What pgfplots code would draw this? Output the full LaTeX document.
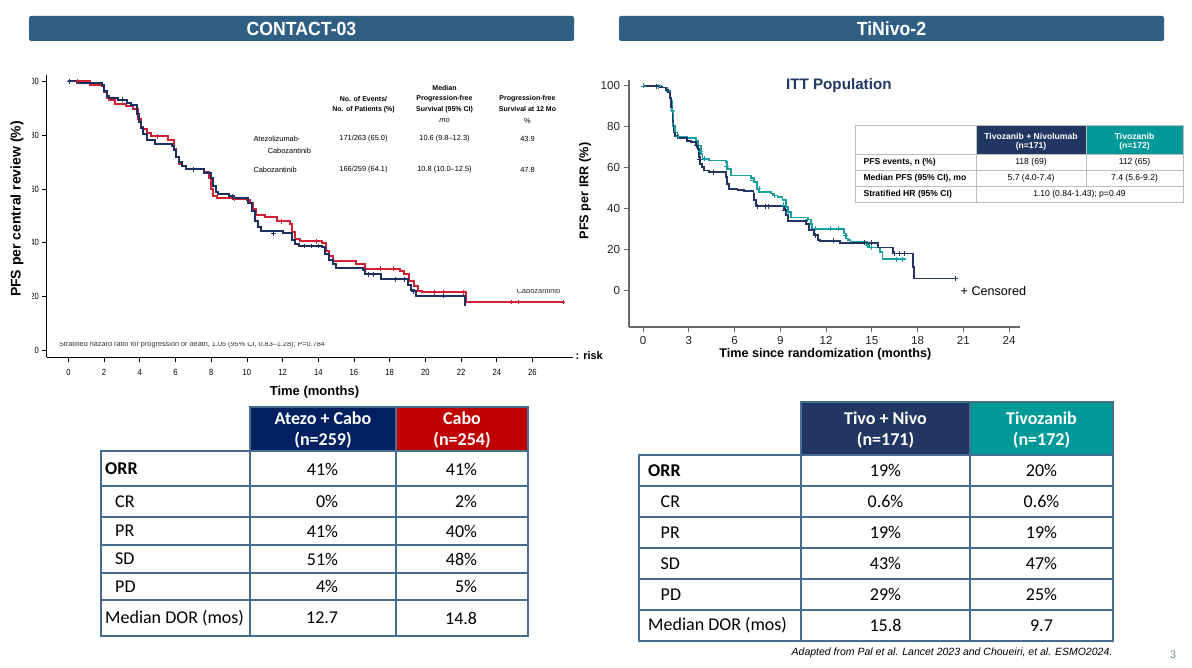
\documentclass[border=0pt]{standalone}
\usepackage{fontspec}
\setmainfont{Liberation Sans}
\newfontfamily\calibri{Carlito}
\usepackage{graphicx}
\usepackage{pgfplots}
\pgfplotsset{compat=1.18}
\newcommand{\fs}[1]{\fontsize{#1}{#1}\selectfont}
\definecolor{banner}{RGB}{47,96,132}
\definecolor{kmred}{RGB}{210,32,52}
\definecolor{kmblue}{RGB}{28,48,98}
\definecolor{tnavy}{RGB}{36,54,100}
\definecolor{tteal}{RGB}{26,160,160}
\definecolor{hdrnavy}{RGB}{0,32,96}
\definecolor{hdrred}{RGB}{192,0,0}
\definecolor{hdrnavyb}{RGB}{33,55,98}
\definecolor{hdrteal}{RGB}{0,153,153}
\definecolor{tblborder}{RGB}{70,110,145}
\definecolor{ittnavy}{RGB}{31,56,100}
\definecolor{axgray}{RGB}{105,105,105}
\definecolor{insetgray}{RGB}{190,190,190}
\definecolor{pagenum}{RGB}{100,140,170}
\tikzset{px/.style={x=1pt,y=-1pt,yshift=667pt}}
\begin{document}
\begin{tikzpicture}
\begin{scope}[px]
\useasboundingbox (0,0) rectangle (1192,667);
\fill[white] (0,0) rectangle (1192,667);
% banners
\fill[banner, rounded corners=2pt] (29,16) rectangle (574,41);
\node[white, font=\bfseries\fs{19}] at (301.5,29) {\scalebox{0.93}[1]{CONTACT-03}};
\fill[banner, rounded corners=2pt] (619,16) rectangle (1164,41);
\node[white, font=\bfseries\fs{19}] at (891.5,29) {\scalebox{0.93}[1]{TiNivo-2}};
\end{scope}

% ---------------- left KM ----------------
\begin{axis}[
 at={(47pt,309.5pt)}, anchor=south west, scale only axis,
 width=526pt, height=282.5pt,
 xmin=-1.2, xmax=28.27, ymin=-2.6, ymax=102.4,
 axis x line*=bottom, axis y line*=left,
 axis line style={line width=1pt, black, -},
 xtick={0,2,...,26}, ytick={0,20,...,100},
 tick align=outside, major tick length=5pt,
 tick style={black, line width=0.8pt},
 tick label style={font=\fs{9}, /pgf/number format/assume math mode=true},
 x tick label style={xscale=0.85, yshift=-3pt},
 y tick label style={xscale=0.85},
 clip=false,
]
\addplot[const plot, kmred, line width=2pt] coordinates {
(0,100) (1.2,98.8) (1.9,98.3) (2.0,96) (2.15,94) (2.3,93.2) (2.6,91.8) (3.2,91) (3.6,89.6) (3.9,86) (4.05,83) (4.2,82.2) (4.4,80.9) (4.6,79.6) (5.6,78.3) (5.9,75) (6.05,72) (6.2,69.5) (6.35,68.5) (6.6,67.3) (7.6,66.5) (7.9,64) (8.0,60) (8.1,57.4) (8.3,56.7) (9.5,56.3) (10.0,56) (10.2,54.9) (10.35,52.5) (10.5,50.2) (11.0,49.6) (11.7,48) (12.4,47.2) (12.5,44) (12.7,41.5) (13.0,40.6) (14.2,39.8) (14.45,37) (14.6,35) (14.8,33.2) (16.1,32.2) (16.6,30.4) (18.6,29.5) (18.8,28.3) (19.1,25.8) (19.35,23.9) (19.6,22) (19.8,21.6) (22.25,18.0) (27.7,18.0)};
\addplot[only marks, mark=+, mark size=2.3pt, kmred, line width=0.6pt] coordinates {
(0.5,100) (5.0,79.6) (9.3,56.3) (11.9,48) (13.9,40.6) (17.5,30.4) (18.2,30.4) (20.5,21.6) (21.0,21.6) (22.1,21.6) (24.8,18.0) (25.2,18.0) (27.7,18.0)};
\addplot[const plot, kmblue, line width=2pt] coordinates {
(0,100) (0.5,99.3) (1.9,98.8) (2.0,96.5) (2.15,94.5) (2.3,93.9) (2.8,93.2) (3.3,92) (3.5,91.4) (3.85,88) (3.95,85) (4.05,82.8) (4.2,80.3) (4.4,78.2) (4.85,76.6) (5.8,76) (5.9,74.7) (6.05,72) (6.2,70) (6.35,68.5) (6.6,67.3) (7.6,66) (8.0,64) (8.1,61) (8.25,59) (8.4,58) (9.0,57.3) (9.3,56.6) (10.05,54.8) (10.3,52) (10.45,48) (10.6,46) (10.8,44.4) (12.0,43.5) (12.5,41) (12.7,39.5) (12.9,38.8) (14.2,38.3) (14.4,36) (14.6,33.5) (14.8,32) (15.0,30.8) (16.5,29.8) (16.6,28.3) (17.5,26.4) (19.05,24.5) (19.2,22.5) (19.35,22) (19.5,20.2) (22.22,16.5) (22.22,16.5)};
\addplot[only marks, mark=+, mark size=2.3pt, kmblue, line width=0.6pt] coordinates {
(0.05,100) (3.0,93.2) (7.0,67.3) (9.2,57.3) (11.5,43.5) (13.2,38.8) (13.6,38.8) (14.0,38.8) (16.8,28.3) (17.1,28.3) (18.3,26.4) (18.8,26.4) (19.3,22) (21.0,20.2)};
\end{axis}

% ---------------- right KM ----------------
\begin{axis}[
 at={(629pt,340pt)}, anchor=south west, scale only axis,
 width=391pt, height=247pt,
 xmin=-0.92, xmax=24.72, ymin=-17.6, ymax=102.9,
 axis x line*=bottom, axis y line*=left,
 axis line style={line width=1.2pt, axgray, -},
 xtick={0,3,...,24}, ytick={0,20,...,100},
 tick align=outside, major tick length=5.5pt,
 tick style={axgray, line width=1pt},
 tick label style={font=\fs{11.6}, /pgf/number format/assume math mode=true, text=black!85},
 clip=false,
]
\addplot[const plot, tteal, line width=1.8pt] coordinates {
(0,100) (1.16,99.2) (1.55,97.5) (1.8,92.7) (1.9,87.9) (1.99,80.6) (2.08,77.3) (2.26,75.2) (2.6,74.9) (2.9,74.5) (3.46,73.3) (3.6,70.9) (3.8,66.8) (3.9,64.4) (4.2,64.2) (4.33,63.6) (5.43,62.8) (5.5,59.5) (5.76,56.3) (7.07,55.2) (7.3,53.1) (7.47,49.8) (7.62,48.2) (8.4,47.5) (8.5,46.6) (8.82,45.8) (9.15,44.2) (9.37,40.9) (9.48,38.5) (9.7,35.8) (10.8,34.8) (11.0,32.8) (11.1,30.4) (13.2,28) (13.3,25.6) (13.42,24.8) (13.6,23.9) (14.7,22.3) (14.8,21.2) (15.55,19.1) (15.7,15.4) (17.25,15.4)};
\addplot[only marks, mark=+, mark size=2.5pt, tteal, line width=0.6pt] coordinates {
(0,100) (1.0,99.6) (1.9,88) (2.3,75.2) (3.8,68) (4.0,64.4) (5.5,61) (7.2,54) (7.6,50) (8.6,46.6) (9.2,42) (9.5,38.5) (10.8,34.8) (11.3,30.4) (12.3,30.4) (12.8,30.4) (13.3,27) (14.7,22.3) (15.0,21.2) (16.6,15.4) (17.0,15.4)};
\addplot[const plot, tnavy, line width=1.8pt] coordinates {
(0,100) (1.05,99.6) (1.27,99.2) (1.5,97.9) (1.64,96.8) (1.77,94.3) (1.85,89.5) (1.93,83) (2.0,77.3) (2.08,75.7) (2.26,74.6) (2.9,73.3) (3.13,72.5) (3.46,70.9) (3.6,69.3) (3.68,65.2) (3.74,62) (3.85,60.4) (4.0,58.7) (4.3,57.9) (5.43,55.5) (5.53,52.3) (5.65,49.8) (6.2,49.3) (6.6,48.7) (7.25,47.4) (7.3,44.2) (7.4,41.7) (7.7,41.3) (9.26,39.3) (9.37,36.9) (9.5,34.1) (10.7,32.5) (10.9,29.6) (11.2,27.2) (11.45,24.8) (11.6,24.4) (12.9,23.5) (15.4,21.2) (16.4,18.3) (17.7,11.8) (17.75,6.1) (20.5,6.1)};
\addplot[only marks, mark=+, mark size=2.5pt, tnavy, line width=0.6pt] coordinates {
(0.9,99.8) (3.5,70.9) (3.7,64) (4.6,57.9) (7.5,41.3) (8.0,41.3) (8.2,41.3) (9.3,39.3) (11.3,27.2) (12.5,24.4) (14.5,23.5) (15.0,23.5) (16.5,18.3) (16.8,18.3) (17.1,18.3) (20.5,6.1)};
\end{axis}

\begin{scope}[px]
\fill[white] (20,70) rectangle (31.5,362);
\node[font=\bfseries\fs{14}, rotate=90] at (17,209) {PFS per central review (\%)};
\node[font=\bfseries\fs{13}] at (314.5,392) {Time (months)};
\node[font=\bfseries\fs{11}, anchor=west] at (572,356) {: risk};
% inset text left
\begin{scope}[font=\bfseries\fs{7}]
\node at (363.5,99) {No. of Events/};
\node at (363.5,109.5) {No. of Patients (\%)};
\node at (444.5,88.5) {Median};
\node at (444.5,99) {Progression-free};
\node at (444.5,109.5) {Survival (95\% CI)};
\node at (527.5,99) {Progression-free};
\node at (527.5,109.5) {Survival at 12 Mo};
\end{scope}
\begin{scope}[font=\fs{7.4}]
\node at (444.5,121) {\itshape mo};
\node at (527.5,121) {\%};
\node[anchor=west] at (250,138.5) {Atezolizumab-};
\node[anchor=east] at (314.5,151) {Cabozantinib};
\node at (363.5,138.5) {171/263 (65.0)};
\node at (444.5,138.5) {10.6 (9.8–12.3)};
\node at (527.5,138.5) {43.9};
\node[anchor=west] at (250,170) {Cabozantinib};
\node at (363.5,170) {166/259 (64.1)};
\node at (444.5,170) {10.8 (10.0–12.5)};
\node at (527.5,170) {47.8};
\end{scope}
\begin{scope}
\clip (50,342.3) rectangle (360,352);
\node[anchor=base west, font=\fs{7.3}, text=black!80] at (55.5,347) {Stratified hazard ratio for progression or death, 1.05 (95\% CI, 0.83–1.28); P=0.784};
\end{scope}
\begin{scope}
\clip (505,289.3) rectangle (565,297);
\node[anchor=base west, font=\fs{7.5}, text=black!80] at (513,293.5) {Cabozantinib};
\end{scope}

\node[font=\bfseries\fs{12.7}, rotate=90] at (585,191) {PFS per IRR (\%)};
\node[font=\bfseries\fs{12.6}] at (825.3,354) {Time since randomization (months)};
\node[font=\bfseries\fs{15.2}, text=ittnavy] at (838.8,85.7) {ITT Population};
\node[font=\fs{12.6}] at (993.4,291) {+ Censored};
% inset table right
\fill[hdrnavyb] (976,125) rectangle (1086,154);
\fill[hdrteal] (1086,125) rectangle (1183,154);
\draw[insetgray, line width=0.9pt] (855,125) rectangle (1183,202);
\draw[insetgray, line width=0.9pt] (855,154)--(1183,154) (855,170)--(1183,170) (855,186)--(1183,186) (976,125)--(976,202) (1086,125)--(1086,186);
\begin{scope}[font=\bfseries\fs{8.6}, text=white]
\node at (1031,136.7) {Tivozanib + Nivolumab};
\node at (1031,146.7) {(n=171)};
\node at (1134.5,136.7) {Tivozanib};
\node at (1134.5,146.7) {(n=172)};
\end{scope}
\begin{scope}[font=\bfseries\fs{8.6}]
\node[anchor=west] at (860,162) {PFS events, n (\%)};
\node[anchor=west] at (860,178) {Median PFS (95\% CI), mo};
\node[anchor=west] at (860,194) {Stratified HR (95\% CI)};
\end{scope}
\begin{scope}[font=\fs{8.6}]
\node at (1031,162) {118 (69)};
\node at (1134.5,162) {112 (65)};
\node at (1031,178) {5.7 (4.0-7.4)};
\node at (1134.5,178) {7.4 (5.6-9.2)};
\node at (1079.5,194) {1.10 (0.84-1.43); p=0.49};
\end{scope}

% ---------------- bottom left table ----------------
\fill[hdrnavy] (250,407) rectangle (396,451);
\fill[hdrred] (396,407) rectangle (528,451);
\begin{scope}[tblborder, line width=1.5pt]
\draw (250,407) rectangle (528,451);
\draw (396,407)--(396,451);
\draw (101,451) rectangle (528,636);
\foreach \yy in {486,517,545,573,600} {\draw (101,\yy)--(528,\yy);}
\draw (250,451)--(250,636) (396,451)--(396,636);
\end{scope}
\begin{scope}[font=\calibri\bfseries\fs{18}, text=white]
\node at (323,418) {Atezo + Cabo};
\node at (323,440) {(n=259)};
\node at (462,418) {Cabo};
\node at (462,440) {(n=254)};
\end{scope}
\begin{scope}[font=\calibri\fs{18}]
\node[anchor=west, font=\calibri\bfseries\fs{18}, inner sep=0pt] at (105,469) {ORR};
\node[anchor=west, inner sep=0pt] at (115,501.5) {CR};
\node[anchor=west, inner sep=0pt] at (115,531) {PR};
\node[anchor=west, inner sep=0pt] at (115,559) {SD};
\node[anchor=west, inner sep=0pt] at (115,586.5) {PD};
\node[anchor=west, inner sep=0pt] at (105,618) {Median DOR (mos)};
\foreach \yy/\va/\vb in {469/41\%/41\%, 501.5/0\%/2\%, 531/41\%/40\%, 559/51\%/48\%, 586.5/4\%/5\%, 618/12.7/14.8} {
  \node[anchor=east, inner sep=0pt] at (338.3,\yy) {\va};
  \node[anchor=east, inner sep=0pt] at (477.3,\yy) {\vb};
}
\end{scope}

% ---------------- bottom right table ----------------
\fill[hdrnavyb] (801,402) rectangle (970,455);
\fill[hdrteal] (970,402) rectangle (1113,455);
\begin{scope}[tblborder, line width=2pt]
\draw (801,402) rectangle (1113,455);
\draw (970,402)--(970,455);
\draw (639,455) rectangle (1113,641);
\foreach \yy in {486,517,548,579,610} {\draw (639,\yy)--(1113,\yy);}
\draw (801,455)--(801,641) (970,455)--(970,641);
\end{scope}
\begin{scope}[font=\calibri\bfseries\fs{18}, text=white]
\node at (885.5,418) {Tivo + Nivo};
\node at (885.5,440) {(n=171)};
\node at (1041.5,418) {Tivozanib};
\node at (1041.5,440) {(n=172)};
\end{scope}
\begin{scope}[font=\calibri\fs{18}]
\node[anchor=west, font=\calibri\bfseries\fs{18}, inner sep=0pt] at (648,470.5) {ORR};
\node[anchor=west, inner sep=0pt] at (660.5,501.5) {CR};
\node[anchor=west, inner sep=0pt] at (660.5,532.5) {PR};
\node[anchor=west, inner sep=0pt] at (660.5,563.5) {SD};
\node[anchor=west, inner sep=0pt] at (660.5,594.5) {PD};
\node[anchor=west, inner sep=0pt] at (648,625.5) {Median DOR (mos)};
\foreach \yy/\va/\vb in {470.5/19\%/20\%, 501.5/0.6\%/0.6\%, 532.5/19\%/19\%, 563.5/43\%/47\%, 594.5/29\%/25\%, 625.5/15.8/9.7} {
  \node at (885.5,\yy) {\va};
  \node at (1041.5,\yy) {\vb};
}
\end{scope}
\node[anchor=east, font=\itshape\fs{10.5}, inner sep=0pt] at (1112.5,653) {Adapted from Pal et al. Lancet 2023 and Choueiri, et al. ESMO2024.};
\node[font=\calibri\fs{12}, text=pagenum] at (1173,655) {3};
\end{scope}
\end{tikzpicture}
\end{document}
